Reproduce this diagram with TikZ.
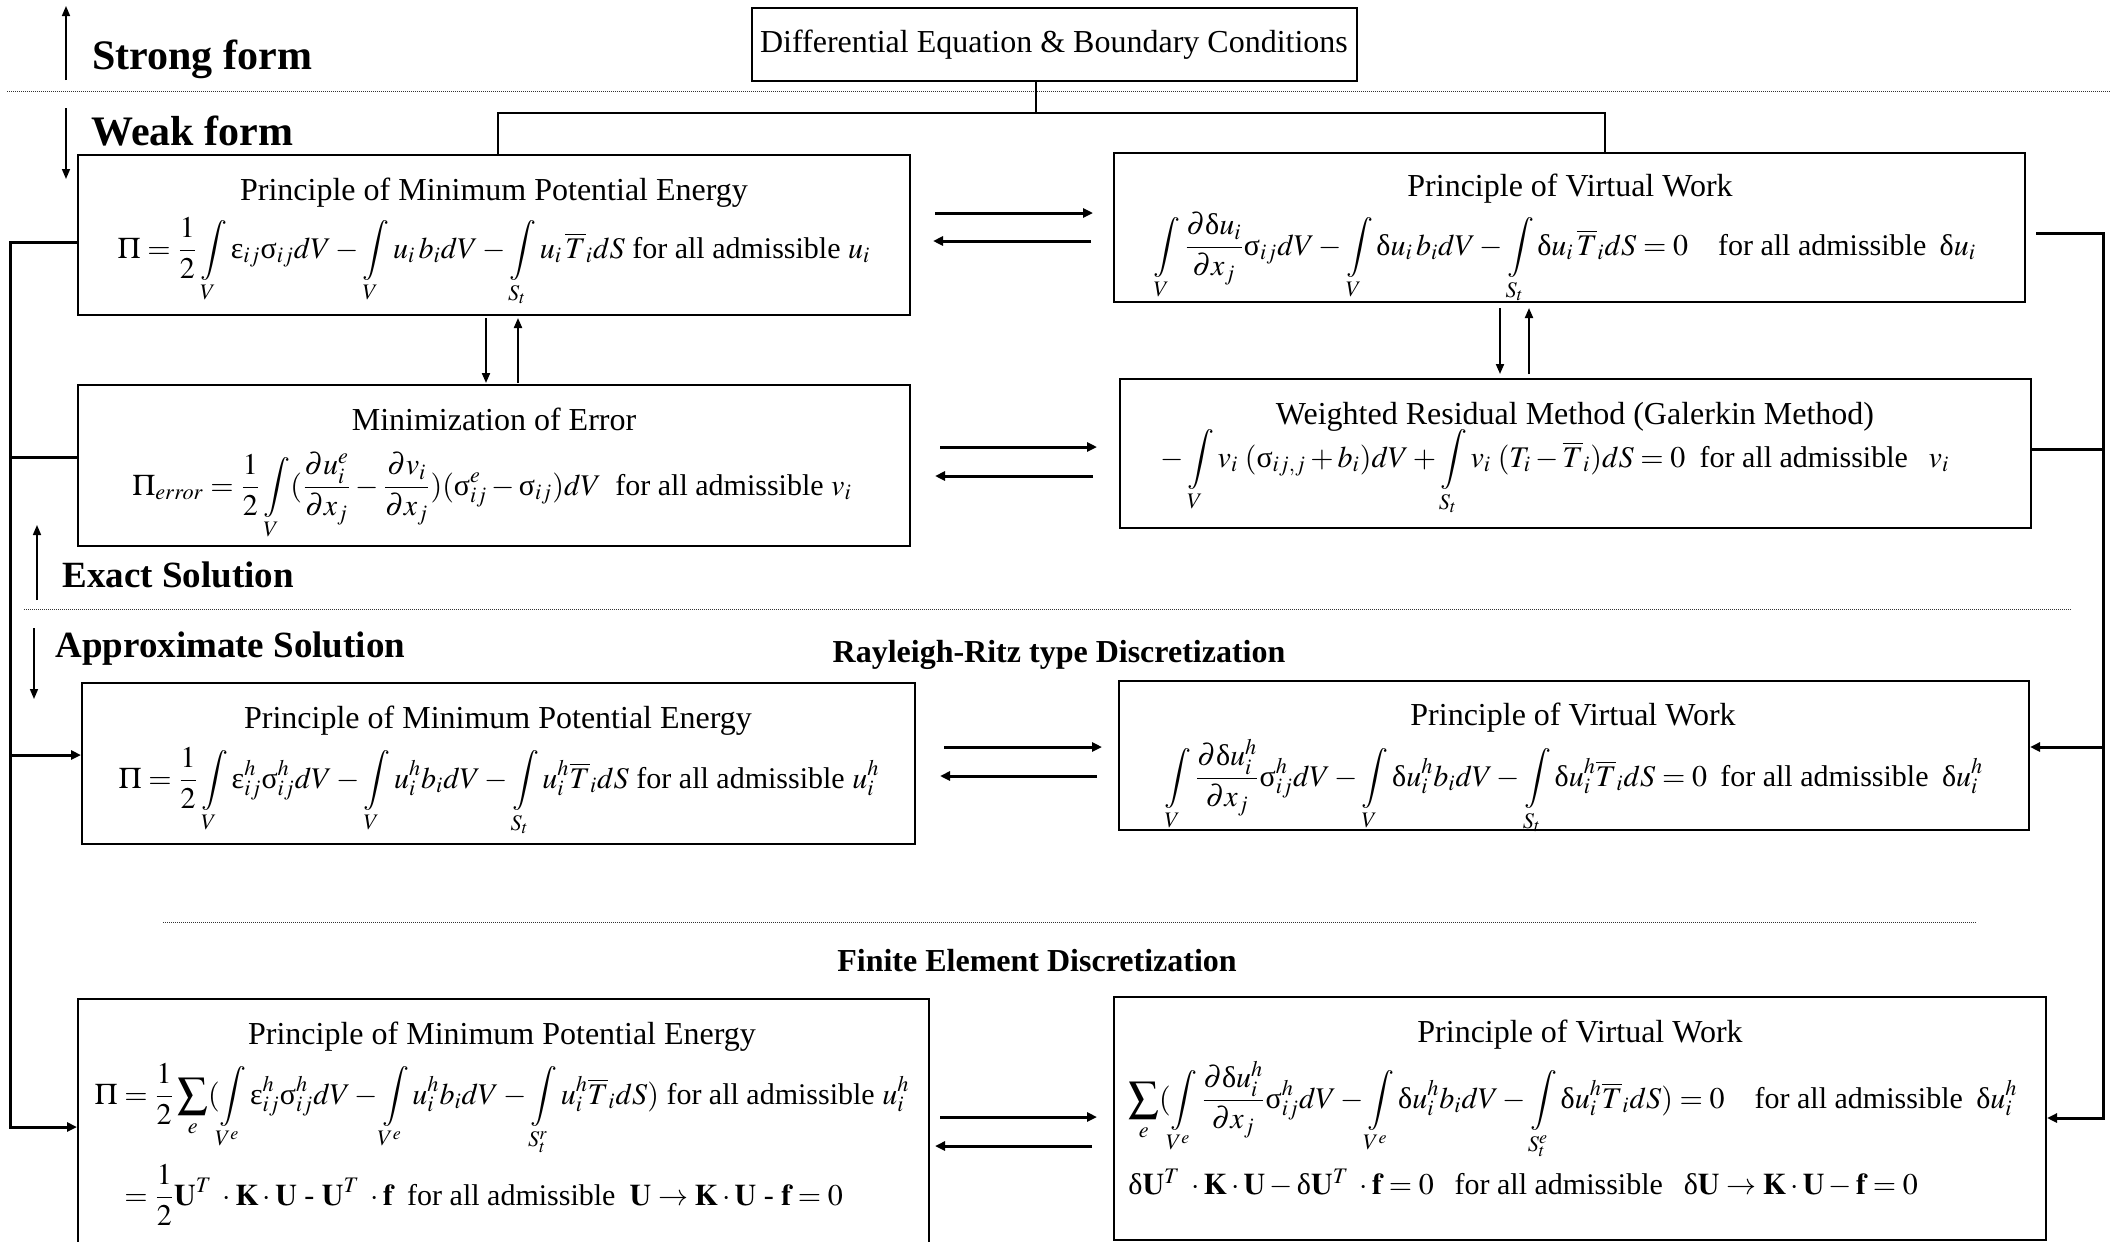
\documentclass[tikz,border=0pt]{standalone}
\usepackage{mathptmx}
\usepackage[no-math]{fontspec}
\setmainfont{Liberation Serif}
\usetikzlibrary{fit,calc,arrows.meta}
\newcommand{\fa}{\mbox{ for all admissible }}
\newcommand{\gsg}{\mbox{σ}}
\newcommand{\gep}{\mbox{ε}}
\newcommand{\gdl}{\mbox{δ}}
\begin{document}
\begin{tikzpicture}[x=0.5pt,y=-0.5pt,
  box/.style={draw, line width=1pt, inner sep=0pt},
  ttl/.style={font=\fontsize{16}{19}\selectfont, inner sep=0pt, anchor=base},
  fm/.style={font=\fontsize{15}{18}\selectfont, inner sep=0pt, anchor=base},
  fmw/.style={font=\fontsize{15}{18}\selectfont, inner sep=0pt, anchor=base west},
  bighead/.style={font=\bfseries\fontsize{21}{25}\selectfont, inner sep=0pt, anchor=base west},
  midhead/.style={font=\bfseries\fontsize{18.5}{22}\selectfont, inner sep=0pt, anchor=base west},
  sechead/.style={font=\bfseries\fontsize{16}{19}\selectfont, inner sep=0pt, anchor=base},
  harr/.style={line width=1.5pt, -{Triangle[length=5pt,width=4.5pt]}},
  varr/.style={line width=1pt, -{Triangle[length=5pt,width=4pt]}},
  bus/.style={line width=1.5pt},
  busarr/.style={line width=1.5pt, -{Triangle[length=5pt,width=4.5pt]}},
  link/.style={line width=1pt},
  sepline/.style={line width=0.5pt, black!80, dash pattern=on 0.4pt off 0.6pt},
  side/.style={line width=0.8pt, -{Triangle[length=5pt,width=4pt]}}
]
\useasboundingbox (0,0) rectangle (2110,1242);
\clip (0,0) rectangle (2110,1242);

% ---------- headings ----------
\coordinate (sfb) at (66,80);  \coordinate (sft) at (66,6);
\draw[side] (sfb) -- (sft);
\node[bighead] (strong) at (92,69) {Strong form};
\draw[sepline] (7,91) -- (2110,91);
\coordinate (wft) at (66,108); \coordinate (wfb) at (66,179);
\draw[side] (wft) -- (wfb);
\node[bighead] (weak) at (91,145) {Weak form};

\coordinate (esb) at (37,600); \coordinate (est) at (37,525);
\draw[side] (esb) -- (est);
\node[midhead] (exact) at (62,587) {Exact Solution};
\draw[sepline] (24,609) -- (2071,609);
\coordinate (ast) at (34,628); \coordinate (asb) at (34,699);
\draw[side] (ast) -- (asb);
\node[midhead] (approx) at (55,657) {Approximate Solution};
\node[sechead] (rr) at (1059,662) {Rayleigh-Ritz type Discretization};
\draw[sepline] (163,922) -- (1976,922);
\node[sechead] (fe) at (1037,971) {Finite Element Discretization};

% ---------- boxes ----------
\node[box, fit={(752,8)(1357,81)}] (top) {};
\node[ttl] (toptxt) at (1054,52) {Differential Equation \& Boundary Conditions};

\node[box, fit={(78,155)(910,315)}] (A) {};
\node[box, fit={(1114,153)(2025,302)}] (B) {};
\node[box, fit={(78,385)(910,546)}] (C) {};
\node[box, fit={(1120,379)(2031,528)}] (D) {};
\node[box, fit={(82,683)(915,844)}] (E) {};
\node[box, fit={(1119,681)(2029,830)}] (F) {};
\node[box, fit={(78,999)(929,1270)}] (G) {};
\node[box, fit={(1114,997)(2046,1240)}] (H) {};

% titles
\node[ttl] (At) at (494,200) {Principle of Minimum Potential Energy};
\node[ttl] (Bt) at (1570,196) {Principle of Virtual Work};
\node[ttl] (Ct) at (494,430) {Minimization of Error};
\node[ttl] (Dt) at (1575,424) {Weighted Residual Method (Galerkin Method)};
\node[ttl] (Et) at (498,728) {Principle of Minimum Potential Energy};
\node[ttl] (Ft) at (1573,725) {Principle of Virtual Work};
\node[ttl] (Gt) at (502,1044) {Principle of Minimum Potential Energy};
\node[ttl] (Ht) at (1580,1042) {Principle of Virtual Work};

% formulas
\node[fm] (Af) at (494,258) {$\displaystyle \Pi=\frac{1}{2}\int\limits_V \gep_{ij}\gsg_{ij}dV-\int\limits_V u_i\,b_i dV-\int\limits_{S_t}u_i\,\overline{T}_i dS\fa u_i$};
\node[fm] (Bf) at (1565,255) {$\displaystyle \int\limits_V \frac{\partial\gdl u_i}{\partial x_j}\gsg_{ij}dV-\int\limits_V \gdl u_i\,b_i dV-\int\limits_{S_t}\gdl u_i\,\overline{T}_i dS=0\quad\mbox{for all admissible}\;\;\gdl u_i$};
\node[fm] (Cf) at (492,495) {$\displaystyle \Pi_{error}=\frac{1}{2}\int\limits_V(\frac{\partial u_i^e}{\partial x_j}-\frac{\partial v_i}{\partial x_j})(\gsg_{ij}^e-\gsg_{ij})dV\;\fa v_i$};
\node[fm] (Df) at (1555,467) {$\displaystyle -\int\limits_V v_i\;(\gsg_{ij,j}+b_i)dV+\int\limits_{S_t}v_i\;(T_i-\overline{T}_i)dS=0\;\fa\;\; v_i$};
\node[fm] (Ef) at (499,788) {$\displaystyle \Pi=\frac{1}{2}\int\limits_V \gep_{ij}^h\gsg_{ij}^h dV-\int\limits_V u_i^h b_i dV-\int\limits_{S_t}u_i^h\overline{T}_i dS\fa u_i^h$};
\node[fm] (Ff) at (1574,786) {$\displaystyle \int\limits_V \frac{\partial\gdl u_i^h}{\partial x_j}\gsg_{ij}^h dV-\int\limits_V \gdl u_i^h b_i dV-\int\limits_{S_t}\gdl u_i^h\overline{T}_i dS=0\;\;\mbox{for all admissible}\;\;\gdl u_i^h$};
\node[fm] (Gf1) at (502,1104) {$\displaystyle \Pi=\frac{1}{2}\sum\limits_e(\int\limits_{V^e} \gep_{ij}^h\gsg_{ij}^h dV-\int\limits_{V^e} u_i^h b_i dV-\int\limits_{S_t^r}u_i^h\overline{T}_i dS)\fa u_i^h$};
\node[fmw] (Gf2) at (124,1205) {$\displaystyle =\frac{1}{2}\mathbf{U}^T\;\cdot\mathbf{K}\cdot\mathbf{U}\mbox{ - }\mathbf{U}^T\;\cdot\mathbf{f}\;\fa\;\mathbf{U}\to\mathbf{K}\cdot\mathbf{U}\mbox{ - }\mathbf{f}=0$};
\node[fmw] (Hf1) at (1128,1108) {$\displaystyle \sum\limits_e(\int\limits_{V^e} \frac{\partial\gdl u_i^h}{\partial x_j}\gsg_{ij}^h dV-\int\limits_{V^e} \gdl u_i^h b_i dV-\int\limits_{S_t^e}\gdl u_i^h\overline{T}_i dS)=0\quad\mbox{for all admissible}\;\;\gdl u_i^h$};
\node[fmw] (Hf2) at (1128,1194) {$\gdl\mathbf{U}^T\;\cdot\mathbf{K}\cdot\mathbf{U}-\gdl\mathbf{U}^T\;\cdot\mathbf{f}=0\;\;\fa\;\;\gdl\mathbf{U}\to\mathbf{K}\cdot\mathbf{U}-\mathbf{f}=0$};

% ---------- connectors ----------
% top tree
\coordinate (jt) at (1036,113);
\coordinate (jl) at (498,113);
\coordinate (jr) at (1605,113);
\draw[link] (jt |- top.south) -- (jt);
\draw[link] (jl |- A.north) -- (jl) -- (jr) -- (jr |- B.north);

% A <-> B
\coordinate (ab1) at (935,213); \coordinate (ab2) at (1093,213);
\coordinate (ba1) at (1091,241); \coordinate (ba2) at (933,241);
\draw[harr] (ab1) -- (ab2);
\draw[harr] (ba1) -- (ba2);
% C <-> D
\coordinate (cd1) at (940,447); \coordinate (cd2) at (1097,447);
\coordinate (dc1) at (1093,476); \coordinate (dc2) at (935,476);
\draw[harr] (cd1) -- (cd2);
\draw[harr] (dc1) -- (dc2);
% E <-> F
\coordinate (ef1) at (944,747); \coordinate (ef2) at (1102,747);
\coordinate (fe1) at (1097,776); \coordinate (fe2) at (940,776);
\draw[harr] (ef1) -- (ef2);
\draw[harr] (fe1) -- (fe2);
% G <-> H
\coordinate (gh1) at (940,1117); \coordinate (gh2) at (1097,1117);
\coordinate (hg1) at (1092,1146); \coordinate (hg2) at (935,1146);
\draw[harr] (gh1) -- (gh2);
\draw[harr] (hg1) -- (hg2);

% A <-> C vertical
\coordinate (ac1) at (486,318); \coordinate (ac2) at (486,383);
\coordinate (ca1) at (518,383); \coordinate (ca2) at (518,318);
\draw[varr] (ac1) -- (ac2);
\draw[varr] (ca1) -- (ca2);
% B <-> D vertical
\coordinate (bd1) at (1500,308); \coordinate (bd2) at (1500,374);
\coordinate (db1) at (1529,374); \coordinate (db2) at (1529,308);
\draw[varr] (bd1) -- (bd2);
\draw[varr] (db1) -- (db2);

% left bus
\coordinate (L1) at (10,242);
\coordinate (L2) at (10,457);
\coordinate (L3) at (10,755);
\coordinate (L4) at (10,1127);
\draw[busarr] (L1 -| A.west) -- (L1) -- (L4) -- (L4 -| G.west);
\draw[bus] (L2 -| C.west) -- (L2);
\draw[busarr] (L3) -- (L3 -| E.west);

% right bus
\coordinate (R1) at (2103,233);
\coordinate (R2) at (2103,449);
\coordinate (R3) at (2103,747);
\coordinate (R4) at (2103,1118);
\draw[busarr] ($(R1 -| B.east)+(10,0)$) -- (R1) -- (R4) -- (R4 -| H.east);
\draw[bus] (R2 -| D.east) -- (R2);
\draw[busarr] (R3) -- (R3 -| F.east);
\end{tikzpicture}
\end{document}
